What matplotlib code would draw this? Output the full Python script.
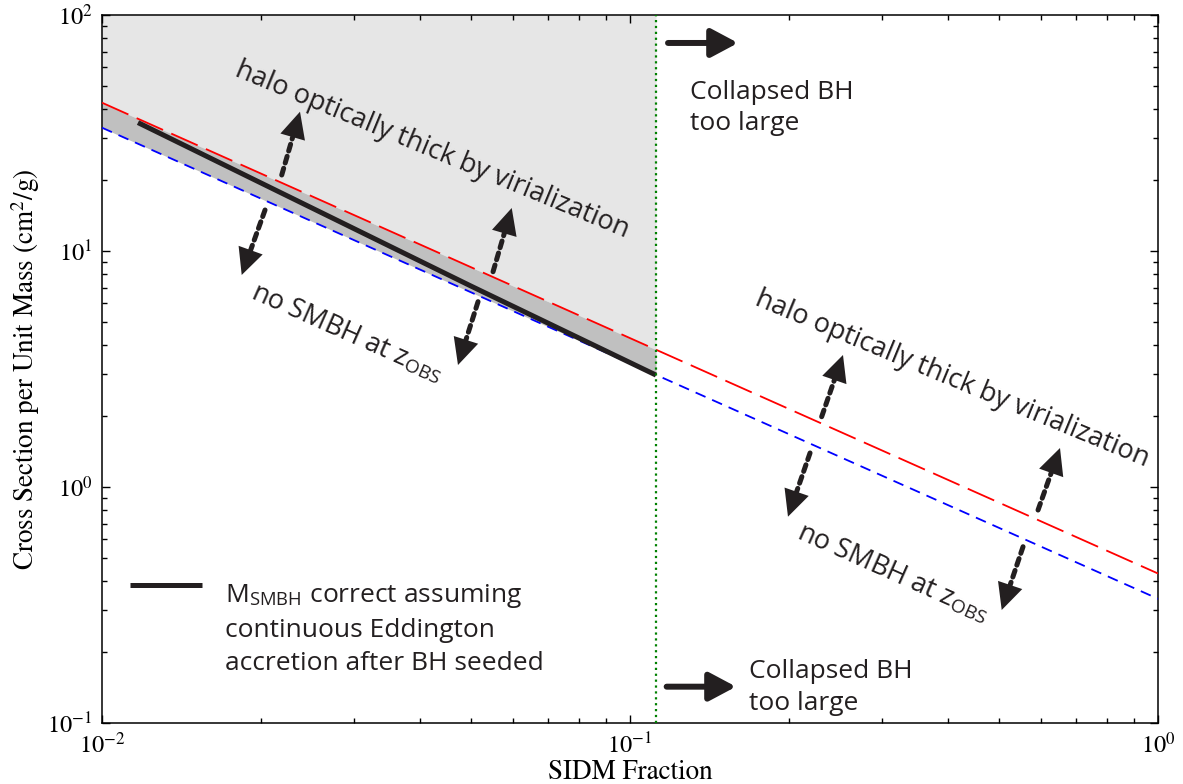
import numpy as np
import matplotlib
matplotlib.use("Agg")
import matplotlib.pyplot as plt

plt.rcParams['font.family'] = ['STIXGeneral', 'DejaVu Serif']
plt.rcParams['mathtext.fontset'] = 'custom'
plt.rcParams['mathtext.rm'] = 'STIXGeneral'
plt.rcParams['mathtext.it'] = 'STIXGeneral:italic'
plt.rcParams['mathtext.sf'] = 'Open Sans'

# data
red_x = [0.01, 1.0]
red_y = [42.5, 0.43]          # halo optically thick by virialization
blue_x = [0.01, 1.0]
blue_y = [33.3, 0.336]        # no SMBH at z_OBS
black_x = [0.0117, 0.05, 0.112]
black_y = [35.0, 7.1, 2.98]   # M_SMBH with continuous Eddington accretion
x_cut = 0.112                 # collapsed BH too large beyond this
x_lim = [1e-2, 1e0]
y_lim = [1e-1, 1e2]

INK = '#231f20'
SANS = ['Open Sans', 'DejaVu Sans']
AX_W, AX_H = 1056.0, 708.0   # axes size in pixels


def loglog_interp(x, xs, ys):
    return 10 ** np.interp(np.log10(x), np.log10(xs), np.log10(ys))


def dotted_arrow(ax, base, tip, head_px=26.0):
    dx = (tip[0] - base[0]) * AX_W
    dy = (tip[1] - base[1]) * AX_H
    frac = head_px / np.hypot(dx, dy)
    mid = (tip[0] - frac * (tip[0] - base[0]), tip[1] - frac * (tip[1] - base[1]))
    ax.annotate('', xy=mid, xytext=base, xycoords='axes fraction',
                textcoords='axes fraction',
                arrowprops=dict(arrowstyle='-', lw=3.6, color=INK,
                                linestyle=(0, (1.4, 1.1)), shrinkA=0, shrinkB=0))
    ax.annotate('', xy=tip, xytext=mid, xycoords='axes fraction',
                textcoords='axes fraction',
                arrowprops=dict(arrowstyle='-|>,head_length=0.95,head_width=0.46',
                                mutation_scale=20, lw=0, color=INK,
                                shrinkA=0, shrinkB=0))


fig = plt.figure(figsize=(11.83, 7.84), dpi=100)
ax = fig.add_axes([102 / 1183, 1 - 723 / 784, 1056 / 1183, 708 / 784])
ax.set_xscale('log')
ax.set_yscale('log')

# shaded regions left of the cut
fx = [x_lim[0], x_cut]
fr = [loglog_interp(v, red_x, red_y) for v in fx]
fb = [loglog_interp(v, blue_x, blue_y) for v in fx]
ax.fill_between(fx, fr, [y_lim[1]] * 2, color='#e6e6e6', lw=0, zorder=1)
ax.fill_between(fx, fb, fr, color='#c0c0c0', lw=0, zorder=1)

ax.plot(red_x, red_y, color='red', lw=1.3, dashes=(16, 5), zorder=3)
ax.plot(blue_x, blue_y, color='blue', lw=1.3, dashes=(6, 4), zorder=3)
ax.plot(black_x, black_y, color=INK, lw=3.6, solid_capstyle='butt', zorder=4)
ax.axvline(x_cut, color='#008000', lw=1.6, ls=':', zorder=5)

ax.set_xlim(x_lim)
ax.set_ylim(y_lim)
ax.tick_params(which='both', direction='in', top=True, right=True,
               labelsize=17.5, width=1.0)
ax.tick_params(which='major', length=6, pad=7)
ax.tick_params(which='minor', length=3.5)
for s in ax.spines.values():
    s.set_linewidth(1.1)
ax.set_xlabel('SIDM Fraction', fontsize=19.5, labelpad=1)
ax.set_ylabel('Cross Section per Unit Mass (cm$^2$/g)', fontsize=19.5, labelpad=4)

# annotations
txt = dict(family=SANS, fontsize=19.5, color=INK, ha='center', va='center',
           rotation_mode='anchor', transform=ax.transAxes)
ax.text(0.3125, 0.8093, 'halo optically thick by virialization', rotation=-22.5, **txt)
ax.text(0.8049, 0.4859, 'halo optically thick by virialization', rotation=-22.5, **txt)
ax.text(0.2320, 0.5494, r'no SMBH at z$_{\mathsf{OBS}}$', rotation=-24, **txt)
ax.text(0.7491, 0.2105, r'no SMBH at z$_{\mathsf{OBS}}$', rotation=-24, **txt)

arrows = [((0.1702, 0.7740), (0.1875, 0.8634)),
          ((0.1544, 0.7246), (0.1323, 0.6328)),
          ((0.3703, 0.6374), (0.3880, 0.7274)),
          ((0.3561, 0.5951), (0.3371, 0.5056)),
          ((0.6815, 0.4326), (0.7017, 0.5198)),
          ((0.6705, 0.3814), (0.6496, 0.2914)),
          ((0.8864, 0.3008), (0.9072, 0.3884)),
          ((0.8722, 0.2490), (0.8520, 0.1596))]
for b, t in arrows:
    dotted_arrow(ax, b, t)

# horizontal arrows; text y is the baseline of the last line
for y0, (xa, xb), (tx, ty), ls in [(0.9605, (0.536, 0.6023), (0.5568, 0.8376), 1.3),
                                   (0.0513, (0.5347, 0.6004), (0.6127, 0.0184), 1.37)]:
    ax.annotate('', xy=(xb, y0), xytext=(xa, y0), xycoords='axes fraction',
                textcoords='axes fraction',
                arrowprops=dict(arrowstyle='-|>,head_length=0.9,head_width=0.48',
                                mutation_scale=18, lw=4.3, color=INK,
                                shrinkA=0, shrinkB=0))
    ax.text(tx, ty, 'Collapsed BH\ntoo large', family=SANS, fontsize=19,
            color=INK, ha='left', va='baseline', linespacing=ls,
            transform=ax.transAxes)

# legend drawn by hand so the sample sits on the first line
ax.plot([0.0265, 0.0944], [0.1949, 0.1949], color=INK, lw=3.6,
        solid_capstyle='butt', transform=ax.transAxes)
ax.text(0.1165, 0.0749,
        'M$_{\\mathsf{SMBH}}$ correct assuming\ncontinuous Eddington\naccretion after BH seeded',
        family=SANS, fontsize=19, color=INK, ha='left', va='baseline',
        linespacing=1.43, transform=ax.transAxes)

fig.savefig('out.png', dpi=100)
